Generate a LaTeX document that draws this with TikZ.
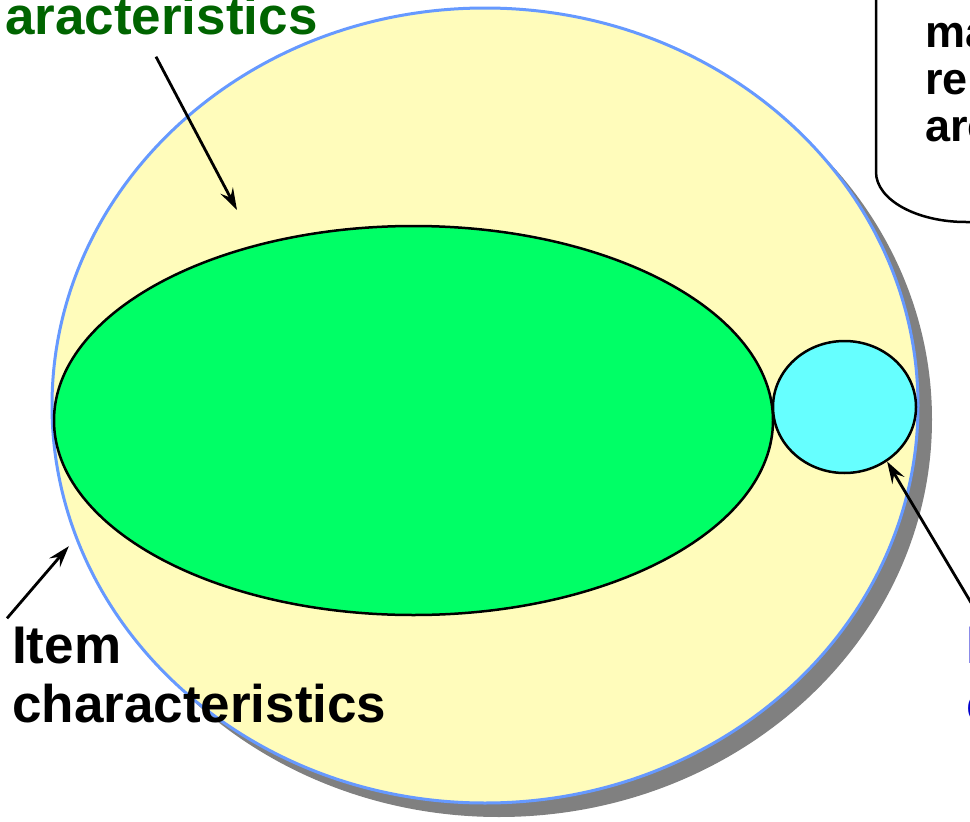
\documentclass[tikz,border=0pt]{standalone}
\usepackage{fontspec}
\setmainfont{Liberation Sans}
\usetikzlibrary{arrows.meta,shapes.geometric}
\definecolor{paleyellow}{RGB}{255,252,187}
\definecolor{brightgreen}{RGB}{0,255,102}
\definecolor{palecyan}{RGB}{102,255,255}
\definecolor{outlineblue}{RGB}{102,153,255}
\definecolor{labelgreen}{RGB}{0,100,0}
\definecolor{labelblue}{RGB}{0,0,204}
\tikzset{
  blob/.style={ellipse, draw=black, line width=2.5pt, inner sep=0pt},
  lbl/.style={font=\fontsize{53}{59}\selectfont\bfseries, inner sep=0pt, align=left, anchor=base west},
  pointer/.style={line width=2.8pt, -{Stealth[length=22pt,width=14pt,inset=8pt]}},
}
\begin{document}
\begin{tikzpicture}[x=1pt,y=-1pt]
  \useasboundingbox (0,0) rectangle (970,822);
  \clip (0,0) rectangle (970,822);
  % Schatten
  \fill[gray] (499,419.5) ellipse [x radius=433, y radius=397.5];
  % Ellipsen
  \node[blob, draw=outlineblue, line width=3pt, fill=paleyellow, minimum width=866pt, minimum height=795pt] (pop) at (485,405.5) {};
  \node[blob, fill=brightgreen, minimum width=719pt, minimum height=389pt] (core) at (413.5,420.5) {};
  \node[blob, fill=palecyan, minimum width=143pt, minimum height=132pt] (edge) at (844.5,407) {};
  % Sprechblase
  \draw[line width=2.5pt, fill=white] (876,-10) -- (876,172) arc [start angle=180, end angle=90, x radius=90, y radius=50] -- (990,222) -- (990,-10) -- cycle;
  \node[lbl, font=\fontsize{45}{47}\selectfont\bfseries] (note) at (925,141) {ma\\rel\\arc};
  % Beschriftungen
  \node[lbl, text=labelgreen] (corelabel) at (5,34) {aracteristics};
  \node[lbl] (itemlabel) at (12,722) {Item\\characteristics};
  \node[lbl, text=labelblue] (edgelabel) at (966,722) {I\\c};
  % Pfeile
  \coordinate (coretip) at (237,210);
  \draw[pointer] ([xshift=151pt,yshift=-22pt]corelabel.south west) -- (coretip);
  \draw[pointer, shorten >=10pt] ([xshift=-5pt,yshift=8pt]itemlabel.north west) -- (pop.198);
  \draw[pointer] ([xshift=12pt,yshift=12pt]edgelabel.north west) -- (edge.-52);
\end{tikzpicture}
\end{document}
